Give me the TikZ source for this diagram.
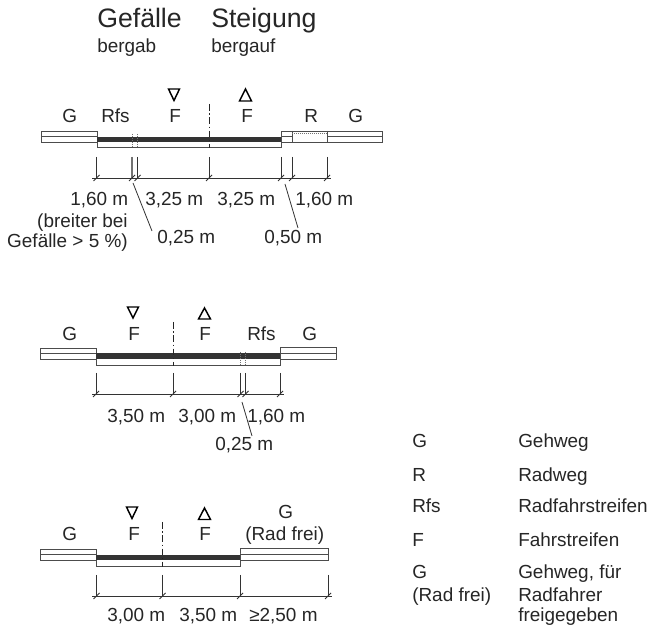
\documentclass[tikz,border=0pt]{standalone}
\usepackage{fontspec}
\setmainfont{Liberation Sans}
\newcommand{\dimtick}[2]{\draw[thinl] (#1,#2-21) -- (#1,#2+1); \draw[thinl] (#1-3,#2+3) -- (#1+3,#2-3);}
\tikzset{
  thinl/.style={line width=0.6pt,black!80},
  boxl/.style={line width=0.7pt,black!70,fill=white},
  roadl/.style={line width=0.5pt,fill=black!80,draw=black!80},
  txt/.style={inner sep=0pt,font=\fontsize{14.2}{17}\selectfont,anchor=base west,text=black!85},
  txe/.style={txt,anchor=base east},
  head/.style={inner sep=0pt,font=\fontsize{20}{24}\selectfont,anchor=base west,text=black!85},
  tri/.style={line width=1.1pt,black,line join=miter},
  cl/.style={line width=0.7pt,dash pattern=on 5pt off 2pt on 1pt off 2pt,black!85},
  grayext/.style={line width=0.9pt,black!55},
  dotl/.style={line width=0.5pt,black!55,densely dotted}
}
\begin{document}
\begin{tikzpicture}[x=0.75pt,y=-0.75pt]
\useasboundingbox (0,0) rectangle (651,627);
\fill[white] (0,0) rectangle (651,627);
% headers
\node[head] (h1) at (97,28) {Gefälle};
\node[head] (h2) at (211,28) {Steigung};
\node[txt] (h3) at (97,53) {bergab};
\node[txt] (h4) at (211,53) {bergauf};

% ---- section 1
\draw[boxl] (41,131) rectangle (97,142); \draw[boxl] (41,136.5) -- (97,136.5);
\draw[boxl] (97,141) rectangle (281.5,147.5);
\draw[roadl] (97,137) rectangle (281.5,141.5);
\draw[boxl] (281.5,131) rectangle (382.5,142);
\draw[boxl] (281.5,136.5) -- (292,136.5); \draw[boxl] (327,136.5) -- (382.5,136.5);
\draw[boxl] (292,131) -- (292,142); \draw[boxl] (327,131) -- (327,142);
\draw[dotl] (292,133.5) -- (327,133.5);
\draw[dotl] (132,134) -- (132,147); \draw[dotl] (137,134) -- (137,147);
\draw[cl] (209,104) -- (209,148);
\foreach \x in {96.5,137.5,209,281,292,327}{\dimtick{\x}{178}}
\draw[grayext] (132,157) -- (132,179);
\draw[thinl] (129,181) -- (135,175);
\draw[thinl] (92,178) -- (331,178);
\node[txt] (t1g) at (62,123) {G};
\node[txt] (t1r) at (101,123) {Rfs};
\node[txt] (t1f) at (169,123) {F};
\node[txt] (t2f) at (241,123) {F};
\node[txt] (t2r) at (304,123) {R};
\node[txt] (t2g) at (348,123) {G};
\draw[tri] (168.5,89) -- (179.5,89) -- (174,100.5) -- cycle;
\draw[tri] (239.5,101) -- (251.5,101) -- (245.5,89) -- cycle;
\node[txt] (d1) at (70,206) {1,60 m};
\node[txt] (d2) at (145,206) {3,25 m};
\node[txt] (d3) at (217,206) {3,25 m};
\node[txt] (d4) at (295,206) {1,60 m};
\node[txe] (d5) at (128,228) {(breiter bei};
\node[txe] (d5b) at (128,248) {Gefälle > 5 \%)};
\node[txt] (d6) at (157,244) {0,25 m};
\node[txt] (d7) at (264,244) {0,50 m};
\draw[thinl] (133,183) -- (152,231);
\draw[thinl] (285,184) -- (298,228);

% ---- section 2
\draw[boxl] (40,348) rectangle (96.5,359); \draw[boxl] (40,353.5) -- (96.5,353.5);
\draw[boxl] (96.5,358) rectangle (280.5,365);
\draw[roadl] (96.5,353.5) rectangle (280.5,358.5);
\draw[boxl] (280.5,347.5) rectangle (336,359); \draw[boxl] (280.5,353) -- (336,353);
\draw[dotl] (240,352) -- (240,365); \draw[dotl] (245.5,352) -- (245.5,365);
\draw[cl] (173,322) -- (173,366);
\foreach \x in {96,173,245.5,280}{\dimtick{\x}{394}}
\draw[thinl,line width=1pt] (240.5,373) -- (240.5,395);
\draw[thinl] (237.5,397) -- (243.5,391);
\draw[thinl] (92,394) -- (284,394);
\node[txt] (s1) at (62,341) {G};
\node[txt] (s2) at (128,341) {F};
\node[txt] (s3) at (199,341) {F};
\node[txt] (s4) at (247,341) {Rfs};
\node[txt] (s5) at (302,341) {G};
\draw[tri] (127.5,307) -- (138.5,307) -- (133,318) -- cycle;
\draw[tri] (198.5,319) -- (210.5,319) -- (204.5,308) -- cycle;
\node[txt] (e1) at (107,423) {3,50 m};
\node[txt] (e2) at (178,423) {3,00 m};
\node[txt] (e3) at (247,423) {1,60 m};
\node[txt] (e4) at (215,451) {0,25 m};
\draw[thinl] (242,402) -- (252,436);

% ---- section 3
\draw[boxl] (40,549) rectangle (96.5,560); \draw[boxl] (40,554.5) -- (96.5,554.5);
\draw[boxl] (96.5,559.5) rectangle (240,566);
\draw[roadl] (96.5,555) rectangle (240,559.5);
\draw[boxl] (240,548) rectangle (328,560); \draw[boxl] (240,554) -- (328,554);
\draw[cl] (162.5,522) -- (162.5,567);
\foreach \x in {96.5,162.5,240,328}{\dimtick{\x}{596}}
\draw[thinl] (92,596) -- (332,596);
\node[txt] (u1) at (62,541) {G};
\node[txt] (u2) at (128,541) {F};
\node[txt] (u3) at (199,541) {F};
\node[txt] (u4) at (278,519) {G};
\node[txt] (u5) at (245,541) {(Rad frei)};
\draw[tri] (126.5,507) -- (137.5,507) -- (132,518.5) -- cycle;
\draw[tri] (198.5,519.5) -- (210.5,519.5) -- (204.5,508) -- cycle;
\node[txt] (v1) at (107,622) {3,00 m};
\node[txt] (v2) at (179,622) {3,50 m};
\node[txt] (v3) at (249,622) {≥2,50 m};

% ---- legend
\node[txt] (l1) at (412,448) {G};
\node[txt] (l1b) at (518,448) {Gehweg};
\node[txt] (l2) at (412,482) {R};
\node[txt] (l2b) at (518,482) {Radweg};
\node[txt] (l3) at (412,513) {Rfs};
\node[txt] (l3b) at (518,513) {Radfahrstreifen};
\node[txt] (l4) at (412,547) {F};
\node[txt] (l4b) at (518,547) {Fahrstreifen};
\node[txt] (l5) at (412,579) {G};
\node[txt] (l5c) at (412,602) {(Rad frei)};
\node[txt] (l5b) at (518,579) {Gehweg, für};
\node[txt] (l5d) at (518,602) {Radfahrer};
\node[txt] (l5e) at (518,622) {freigegeben};
\end{tikzpicture}
\end{document}
